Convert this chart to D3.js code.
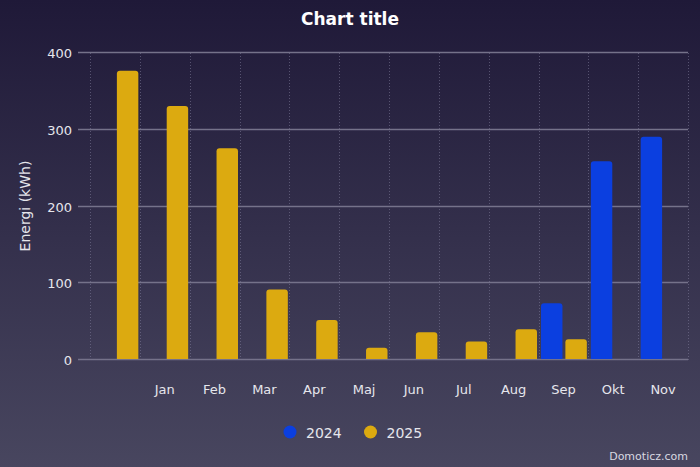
<!DOCTYPE html>
<html>
<head>
<meta charset="utf-8">
<script src="https://cdn.jsdelivr.net/npm/d3@7"></script>
<style>
  body { margin: 0; background: #2a2545; }
  svg { display: block; font-family: "DejaVu Sans", sans-serif; }
</style>
</head>
<body>
<script>
// data
var tickLabels = ["", "Jan", "Feb", "Mar", "Apr", "Maj", "Jun", "Jul", "Aug", "Sep", "Okt", "Nov"];
var seriesNames = ["2024", "2025"];
var values2024 = [null, null, null, null, null, null, null, null, null, 74, 259, 291];
var values2025 = [377, 331, 276, 92, 52, 16, 36, 24, 40, 27, null, null];
var yTicks = [0, 100, 200, 300, 400];
var colors = { "2024": "#0b3fe0", "2025": "#dcaa10" };

var W = 700, H = 467;
var svg = d3.select("body").append("svg").attr("width", W).attr("height", H);

// background gradient
var grad = svg.append("defs").append("linearGradient")
    .attr("id", "bg").attr("x1", 0).attr("y1", 0).attr("x2", 0).attr("y2", 1);
grad.append("stop").attr("offset", "0%").attr("stop-color", "#1f1938");
grad.append("stop").attr("offset", "100%").attr("stop-color", "#48465f");
svg.append("rect").attr("width", W).attr("height", H).attr("fill", "url(#bg)");

var plotLeft = 78, plotRight = 688, cellsLeft = 90, plotTop = 53, plotBottom = 360;

var x = d3.scaleBand()
    .domain(d3.range(tickLabels.length))
    .range([cellsLeft, plotRight])
    .padding(0);
var x1 = d3.scaleBand()
    .domain(seriesNames)
    .range([2.5, x.bandwidth() - 1.5])
    .paddingInner(0.12);
var y = d3.scaleLinear().domain([0, 400]).range([plotBottom, plotTop]);

// vertical dotted grid (faint)
svg.append("g").selectAll("line")
    .data(d3.range(tickLabels.length + 1))
    .join("line")
    .attr("x1", d => Math.round(cellsLeft + d * x.step()) + 0.5)
    .attr("x2", d => Math.round(cellsLeft + d * x.step()) + 0.5)
    .attr("y1", plotTop).attr("y2", plotBottom)
    .attr("stroke", "#7a7794")
    .attr("stroke-opacity", 0.6)
    .attr("stroke-width", 1)
    .attr("stroke-dasharray", "1,2");

// horizontal grid + y labels
var yAxis = svg.append("g");
yAxis.selectAll("line")
    .data(yTicks)
    .join("line")
    .attr("x1", plotLeft).attr("x2", plotRight)
    .attr("y1", d => Math.round(y(d)) - 0.5)
    .attr("y2", d => Math.round(y(d)) - 0.5)
    .attr("stroke", "#75728a")
    .attr("stroke-width", 1.3);
yAxis.selectAll("text")
    .data(yTicks)
    .join("text")
    .attr("x", 72)
    .attr("y", d => y(d) + 5)
    .attr("text-anchor", "end")
    .attr("fill", "#e6e6ec")
    .attr("font-size", 13)
    .text(d => d);

// bars with rounded tops
function barPath(x0, w, y0, y1) {
    var r = Math.min(3, (y1 - y0) / 2);
    return "M" + x0 + "," + y1 +
        "V" + (y0 + r) +
        "Q" + x0 + "," + y0 + " " + (x0 + r) + "," + y0 +
        "H" + (x0 + w - r) +
        "Q" + (x0 + w) + "," + y0 + " " + (x0 + w) + "," + (y0 + r) +
        "V" + y1 + "Z";
}

var bars = [];
tickLabels.forEach(function(lbl, i) {
    if (values2024[i] != null) bars.push({ i: i, s: "2024", v: values2024[i] });
    if (values2025[i] != null) bars.push({ i: i, s: "2025", v: values2025[i] });
});

svg.append("g").selectAll("path")
    .data(bars)
    .join("path")
    .attr("d", d => barPath(x(d.i) + x1(d.s), x1.bandwidth(), y(d.v), y(0) - 1))
    .attr("fill", d => colors[d.s]);

// x labels
svg.append("g").selectAll("text")
    .data(tickLabels)
    .join("text")
    .attr("x", (d, i) => x(i) + x.bandwidth() / 2)
    .attr("y", 394)
    .attr("text-anchor", "middle")
    .attr("fill", "#e6e6ec")
    .attr("font-size", 13)
    .text(d => d);

// title
svg.append("text")
    .attr("x", W / 2).attr("y", 25)
    .attr("text-anchor", "middle")
    .attr("fill", "#ffffff")
    .attr("font-size", 17)
    .attr("font-weight", "bold")
    .text("Chart title");

// y axis title
svg.append("text")
    .attr("transform", "translate(30,206) rotate(-90)")
    .attr("text-anchor", "middle")
    .attr("fill", "#e6e6ec")
    .attr("font-size", 14)
    .text("Energi (kWh)");

// legend
var legend = svg.append("g").selectAll("g")
    .data(seriesNames)
    .join("g")
    .attr("transform", (d, i) => "translate(" + (290 + i * 80.5) + ",432)");
legend.append("circle")
    .attr("r", 6.5)
    .attr("fill", d => colors[d]);
legend.append("text")
    .attr("x", 16).attr("y", 5.5)
    .attr("fill", "#e6e6ec")
    .attr("font-size", 14)
    .text(d => d);

// credits
svg.append("text")
    .attr("x", 688).attr("y", 460)
    .attr("text-anchor", "end")
    .attr("fill", "#d8d8e0")
    .attr("font-size", 11)
    .text("Domoticz.com");
</script>
</body>
</html>
